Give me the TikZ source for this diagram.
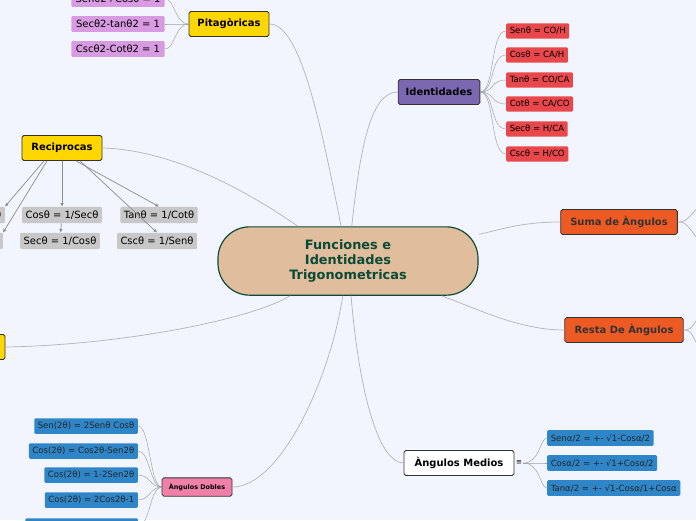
\documentclass[tikz,border=0pt]{standalone}
\usepackage{fontspec}
\setmainfont{DejaVu Sans}
\setsansfont{DejaVu Sans}
\usetikzlibrary{positioning,arrows.meta}
\definecolor{fondo}{HTML}{F2F5FD}
\definecolor{verde}{HTML}{0B4A36}
\definecolor{piel}{HTML}{E0BD9C}
\definecolor{oro}{HTML}{FFD700}
\definecolor{lila}{HTML}{D89AE0}
\definecolor{morado}{HTML}{7B68B0}
\definecolor{rojo}{HTML}{E8474C}
\definecolor{naranja}{HTML}{EE5A24}
\definecolor{azul}{HTML}{2E86C8}
\definecolor{rosa}{HTML}{F080A8}
\definecolor{gris}{HTML}{C8C8C8}
\definecolor{linea}{HTML}{B4B4B8}
\begin{document}
\begin{tikzpicture}[x=0.03cm,y=-0.03cm]
	\tikzset{tema/.style={draw=black!80, rounded corners=1.5pt, line width=0.7pt, font=\fontsize{8.5}{10}\selectfont\bfseries, minimum height=0.75cm, inner xsep=5pt},
		hoja/.style={rounded corners=1pt, font=\fontsize{7.3}{8.5}\selectfont, minimum height=0.45cm, inner xsep=3pt},
		grisa/.style={hoja, fill=gris, font=\fontsize{8.5}{10}\selectfont, inner xsep=3pt},
		rama/.style={draw=linea, line width=0.6pt},
		fino/.style={draw=gris!80!black, line width=0.4pt},
		flecha/.style={draw=gris!70!black, line width=0.6pt, -{Latex[length=3pt,width=3pt]}}}
	\fill[fondo] (0,0) rectangle (696,520);
	\useasboundingbox (0,0) rectangle (696,520);

	% centro
	\node[draw=verde, fill=piel, line width=1pt, rounded corners=0.95cm, minimum width=7.8cm, minimum height=2.05cm, align=center, text=verde, font=\fontsize{11}{12.5}\selectfont\bfseries] (centro) at (348,261) {Funciones e\\Identidades\\Trigonometricas};

	% temas
	\node[tema, fill=oro, minimum width=2.4cm] (pita) at (229,24) {Pitagòricas};
	\node[tema, fill=oro, minimum width=2.4cm] (reci) at (62,148) {Reciprocas};
	\node[tema, fill=oro, minimum width=2.4cm] (otro) at (-35,347) {};
	\node[tema, fill=morado, minimum width=2.45cm] (iden) at (439,92) {Identidades};
	\node[tema, fill=naranja, minimum width=3.5cm, text=black!80] (suma) at (619,222) {Suma de Àngulos};
	\node[tema, fill=naranja, minimum width=3.55cm, text=black!80] (resta) at (624,330) {Resta De Àngulos};
	\node[tema, fill=white, minimum width=3.3cm] (medios) at (459,463) {Àngulos Medios};
	\node[tema, fill=rosa, minimum width=2.1cm, minimum height=0.55cm, font=\fontsize{5.5}{6.5}\selectfont\bfseries] (dobles) at (197,487) {Àngulos Dobles};
	\node[font=\fontsize{6}{7}\selectfont, inner sep=1pt] (menu) at (519,463) {≡};

	\draw[rama] (centro) .. controls (320,120) and (300,24) .. (pita.east);
	\draw[rama] (centro) .. controls (260,200) and (180,150) .. (reci.east);
	\draw[rama] (centro) .. controls (250,320) and (120,345) .. (otro.east);
	\draw[rama] (centro) .. controls (360,150) and (370,92) .. (iden.west);
	\draw[rama] (centro) .. controls (500,230) and (520,222) .. (suma.west);
	\draw[rama] (centro) .. controls (480,310) and (520,330) .. (resta.west);
	\draw[rama] (centro) .. controls (360,400) and (380,463) .. (medios.west);
	\draw[rama] (centro) .. controls (330,380) and (280,487) .. (dobles.east);
	\draw[rama] (suma.east) .. controls (685,222) .. (700,205);
	\draw[rama] (suma.east) .. controls (685,222) .. (700,242);
	\draw[rama] (resta.east) .. controls (690,330) .. (700,315);
	\draw[rama] (resta.east) .. controls (690,330) .. (700,350);

	% pitagoricas
	\foreach \t/\y/\n in {{Senθ2+Cosθ = 1}/-1/p1, {Secθ2-tanθ2 = 1}/24/p2, {Cscθ2-Cotθ2 = 1}/49/p3} {
		\node[hoja, fill=lila, minimum width=2.8cm, font=\fontsize{8.5}{10}\selectfont] (\n) at (118,\y) {\t};
		\draw[fino] (pita.west) .. controls (175,24) and (175,\y) .. (\n.east);
	}

	% identidades
	\foreach \t/\y/\n in {{Senθ = CO/H}/31/i1, {Cosθ = CA/H}/55/i2, {Tanθ = CO/CA}/80/i3, {Cotθ = CA/CO}/104/i4, {Secθ = H/CA}/129/i5, {Cscθ = H/CO}/154/i6} {
		\node[hoja, fill=rojo, anchor=west] (\n) at (506,\y) {\t};
		\draw[fino] (iden.east) .. controls (495,92) and (490,\y) .. (\n.west);
	}

	% reciprocas
	\node[grisa, anchor=east] (r1) at (5,215) {Senθ = 1/Cscθ};
	\node[grisa] (r2) at (62,215) {Cosθ = 1/Secθ};
	\node[grisa] (r3) at (159,215) {Tanθ = 1/Cotθ};
	\node[grisa, anchor=east] (r4) at (3,241) {Cotθ = 1/Tanθ};
	\node[grisa] (r5) at (60,241) {Secθ = 1/Cosθ};
	\node[grisa] (r6) at (157,241) {Cscθ = 1/Senθ};
	\draw[flecha] (reci.south) ++(-18,0) -- (r1.north east);
	\draw[flecha] (reci.south) ++(-15,0) -- (r4.north east);
	\draw[flecha] (reci.south) -- (r2.north);
	\draw[flecha] (reci.south) ++(14,0) -- (r3.north);
	\draw[flecha] (reci.south) ++(18,0) -- (r6.north);
	\draw[flecha] (r2) -- (r5);

	% medios
	\foreach \t/\y/\n in {{Senα/2 = +- √1-Cosα/2}/438/m1, {Cosα/2 = +- √1+Cosα/2}/463/m2, {Tanα/2 = +- √1-Cosα/1+Cosα}/488/m3} {
		\node[hoja, fill=azul, anchor=west, text=black!85] (\n) at (547,\y) {\t};
		\draw[fino] (menu.east) .. controls (540,463) and (540,\y) .. (\n.west);
	}

	% dobles
	\foreach \t/\y/\n in {{Sen(2θ) = 2Senθ Cosθ}/426/d1, {Cos(2θ) = Cos2θ-Sen2θ}/451/d2, {Cos(2θ) = 1-2Sen2θ}/475/d3, {Cos(2θ) = 2Cos2θ-1}/500/d4, {Tan(2θ) = 2Tanθ/1-Tan2θ}/526/d5} {
		\node[hoja, fill=azul, anchor=east, text=black!85] (\n) at (138,\y) {\t};
		\draw[fino] (dobles.west) .. controls (150,487) and (150,\y) .. (\n.east);
	}
\end{tikzpicture}
\end{document}
